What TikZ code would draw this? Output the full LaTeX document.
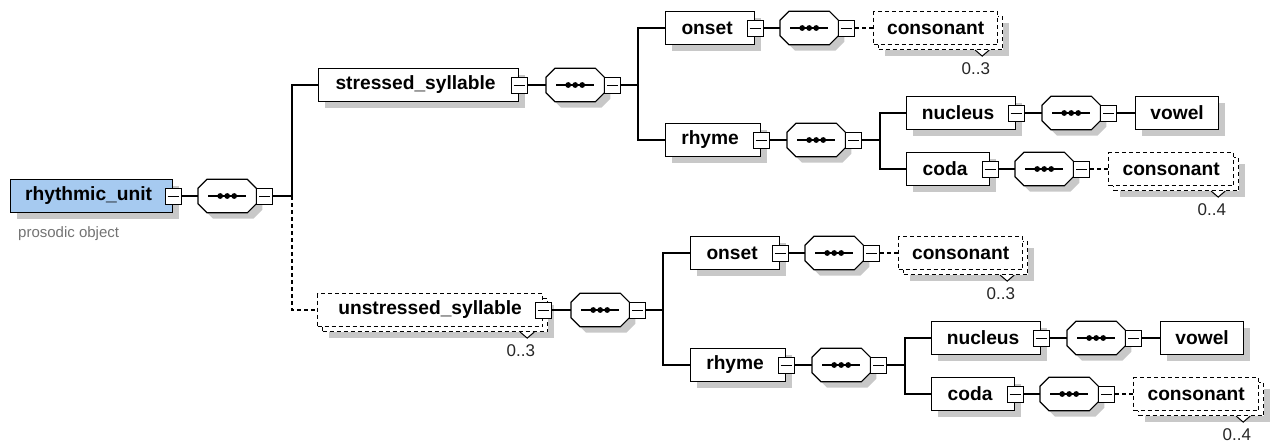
\documentclass[tikz,border=0pt]{standalone}
\usepackage{fontspec}
\setmainfont{Liberation Sans}
\usepackage{tikz}
\usetikzlibrary{shadows, positioning, calc}
\definecolor{rootblue}{RGB}{166,202,240}
\definecolor{shadowgray}{RGB}{200,200,200}
% outline of a sequence compositor round node #1
\newcommand{\octagonpath}[1]{([xshift=9pt]#1.north west) -- ([xshift=-9pt]#1.north east) -- ([yshift=-9pt]#1.north east) -- ([yshift=9pt]#1.south east) -- ([xshift=-9pt]#1.south east) -- ([xshift=9pt]#1.south west) -- ([yshift=9pt]#1.south west) -- ([yshift=-9pt]#1.north west) -- cycle}
\tikzstyle{elbox} = [rectangle, draw=black, line width=1.2pt, fill=white, minimum height=33pt, inner sep=0pt, font=\fontsize{19.2}{23}\selectfont\bfseries]
\tikzstyle{elem} = [elbox, drop shadow={shadow xshift=6pt, shadow yshift=-6pt, fill=shadowgray, opacity=1}]
\tikzstyle{branch} = [elem, execute at end node={\hspace{6pt}}]
\tikzstyle{optstack} = [elbox, dash pattern=on 4pt off 3pt, drop shadow={shadow xshift=11pt, shadow yshift=-11pt, fill=shadowgray, opacity=1}, copy shadow={shadow xshift=5pt, shadow yshift=-5pt, line width=1.2pt, dash pattern=on 4pt off 3pt}]
\tikzstyle{seq} = [rectangle, minimum width=58pt, minimum height=33pt, inner sep=0pt, append after command={\pgfextra{
    \draw [black, line width=1.2pt, fill=white, drop shadow={shadow xshift=6pt, shadow yshift=-6pt, fill=shadowgray, opacity=1}] \octagonpath{\tikzlastnode};
    \draw [black, line width=1.2pt] ([xshift=-19pt]\tikzlastnode.center) -- ([xshift=19pt]\tikzlastnode.center);
    \foreach \d in {-7,0,7} \fill [black] ([xshift=\d pt]\tikzlastnode.center) circle (2.9pt);
  }}]
\tikzstyle{btn} = [rectangle, draw=black, line width=1pt, fill=white, minimum size=16pt, inner sep=0pt, path picture={\draw[black, line width=1pt] ([xshift=2.5pt]path picture bounding box.west) -- ([xshift=-2.5pt]path picture bounding box.east);}]
\tikzstyle{link} = [line width=1.2pt]
\tikzstyle{optlink} = [link, dash pattern=on 4pt off 3pt]
\tikzstyle{notch} = [line width=1pt, fill=white]
\tikzstyle{card} = [inner sep=0pt, text=black!85, font=\fontsize{17}{20}\selectfont]
\tikzstyle{note} = [inner sep=0pt, text=black!55, font=\fontsize{15}{18}\selectfont]
% V mark and occurrence range under a stacked box
\newcommand{\multiplicity}[2]{
  \draw [notch] ([shift={(-23pt,-5pt)}]#1.south east) -- ++(7,6) -- ++(7,-6);
  \node (#1-card) [card, anchor=north east] at ([shift={(-8pt,-17pt)}]#1.south east) {#2};
}
\begin{document}
\begin{tikzpicture}[x=1pt, y=-1pt]
\useasboundingbox (0,0) rectangle (1273,445);
% root
\node (root) [branch, fill=rootblue, minimum width=162pt, anchor=west] at (10,196) {rhythmic\_unit};
\node (root-b) [btn] at (root.east) {};
\node (root-note) [note, anchor=north west] at ([shift={(8pt,-13pt)}]root.south west) {prosodic object};
\node (root-seq) [seq, anchor=west] at (198,196) {};
\node (root-seq-b) [btn, anchor=west] at (root-seq.east) {};
\coordinate (root-j) at (292,196);
% syllables
\node (s-syl) [branch, minimum width=200pt, anchor=west] at (318,85) {stressed\_syllable};
\node (s-syl-b) [btn] at (s-syl.east) {};
\node (u-syl) [optstack, minimum width=225pt, anchor=west] at (317,310) {unstressed\_syllable};
\node (u-syl-b) [btn] at (u-syl.east) {};
\multiplicity{u-syl}{0..3}
\draw [link] (root-b) -- (root-seq);
\draw [link] (root-seq-b) -- (root-j);
\draw [link] (root-j) |- (s-syl);
\draw [optlink] (root-j) |- (u-syl);
% onset and rhyme of each syllable
\foreach \p/\dx/\dy in {s/0/0, u/25/225} {
  \begin{scope}[shift={(\dx,\dy)}]
    \node (\p-seq) [seq, anchor=west] at (546,85) {};
    \node (\p-seq-b) [btn, anchor=west] at (\p-seq.east) {};
    \coordinate (\p-j) at (638,85);
    \node (\p-onset) [branch, minimum width=89pt, anchor=west] at (665,28) {onset};
    \node (\p-onset-b) [btn] at (\p-onset.east) {};
    \node (\p-onset-seq) [seq, anchor=west] at (780,28) {};
    \node (\p-onset-seq-b) [btn, anchor=west] at (\p-onset-seq.east) {};
    \node (\p-onset-cons) [optstack, minimum width=124pt, anchor=west] at (873,28) {consonant};
    \node (\p-rhyme) [branch, minimum width=95pt, anchor=west] at (665,140) {rhyme};
    \node (\p-rhyme-b) [btn] at (\p-rhyme.east) {};
    \node (\p-rhyme-seq) [seq, anchor=west] at (787,140) {};
    \node (\p-rhyme-seq-b) [btn, anchor=west] at (\p-rhyme-seq.east) {};
    \coordinate (\p-rhyme-j) at (880,140);
    \node (\p-nucleus) [branch, minimum width=109pt, anchor=west] at (906,113) {nucleus};
    \node (\p-nucleus-b) [btn] at (\p-nucleus.east) {};
    \node (\p-nucleus-seq) [seq, anchor=west] at (1042,113) {};
    \node (\p-nucleus-seq-b) [btn, anchor=west] at (\p-nucleus-seq.east) {};
    \node (\p-vowel) [elem, minimum width=83pt, anchor=west] at (1135,113) {vowel};
    \node (\p-coda) [branch, minimum width=83pt, anchor=west] at (906,169) {coda};
    \node (\p-coda-b) [btn] at (\p-coda.east) {};
    \node (\p-coda-seq) [seq, anchor=west] at (1015,169) {};
    \node (\p-coda-seq-b) [btn, anchor=west] at (\p-coda-seq.east) {};
    \node (\p-coda-cons) [optstack, minimum width=125pt, anchor=west] at (1108,169) {consonant};
  \end{scope}
  \multiplicity{\p-onset-cons}{0..3}
  \multiplicity{\p-coda-cons}{0..4}
  \draw [link] (\p-syl-b) -- (\p-seq);
  \draw [link] (\p-seq-b) -- (\p-j);
  \draw [link] (\p-j) |- (\p-onset);
  \draw [link] (\p-j) |- (\p-rhyme);
  \draw [link] (\p-onset-b) -- (\p-onset-seq);
  \draw [optlink] (\p-onset-seq-b) -- (\p-onset-cons);
  \draw [link] (\p-rhyme-b) -- (\p-rhyme-seq);
  \draw [link] (\p-rhyme-seq-b) -- (\p-rhyme-j);
  \draw [link] (\p-rhyme-j) |- (\p-nucleus);
  \draw [link] (\p-rhyme-j) |- (\p-coda);
  \draw [link] (\p-nucleus-b) -- (\p-nucleus-seq);
  \draw [link] (\p-nucleus-seq-b) -- (\p-vowel);
  \draw [link] (\p-coda-b) -- (\p-coda-seq);
  \draw [optlink] (\p-coda-seq-b) -- (\p-coda-cons);
}
\end{tikzpicture}
\end{document}
